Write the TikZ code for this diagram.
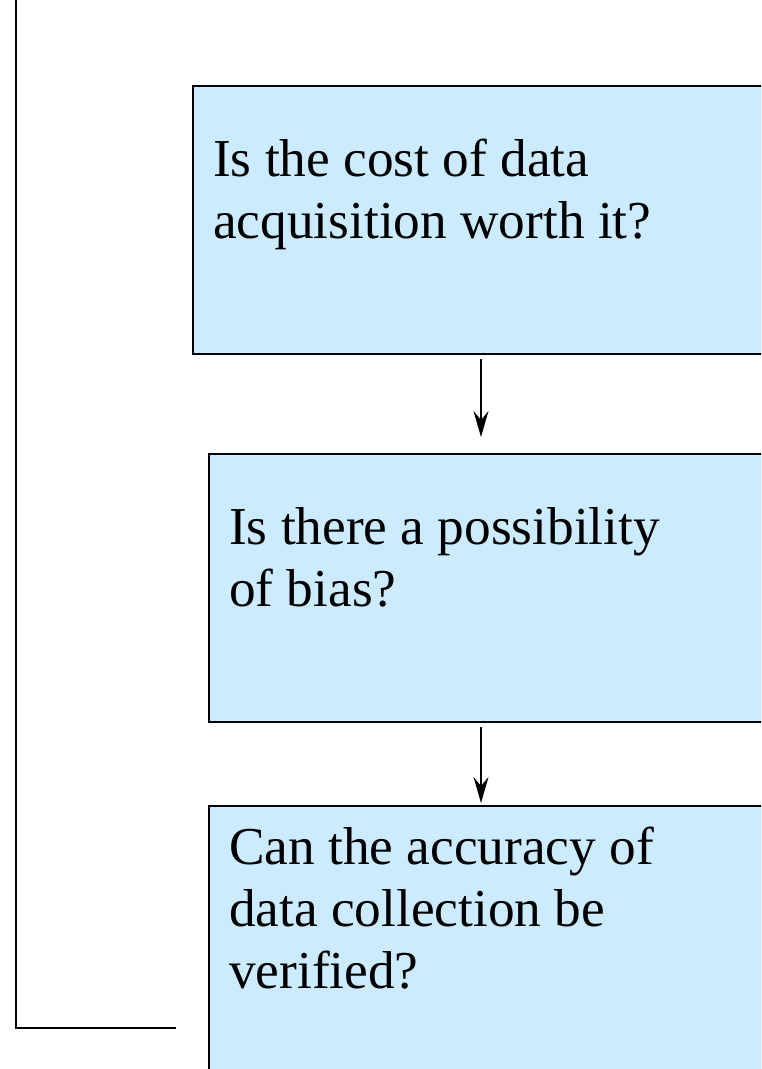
\documentclass[tikz,border=0pt]{standalone}
\usepackage{fontspec}
\setmainfont{Liberation Serif}
\usetikzlibrary{arrows.meta,calc}
\definecolor{boxblue}{RGB}{204,235,255}
\begin{document}
\begin{tikzpicture}[x=1pt,y=-1pt,
  qbox/.style={draw=black, line width=2pt, fill=boxblue, rectangle, inner sep=0pt, anchor=north west},
  qtext/.style={anchor=base west, inner sep=0pt, font=\fontsize{53.3}{62}\selectfont},
  flow/.style={line width=2pt, -{Stealth[length=26pt,width=15pt,inset=9pt]}},
  frame/.style={line width=2pt}]
\useasboundingbox (0,0) rectangle (761,1069);
\clip (0,0) rectangle (761,1069);
\node[qbox, minimum width=620pt, minimum height=268pt] (b1) at (192,85) {};
\node[qbox, minimum width=600pt, minimum height=268pt] (b2) at (208,453) {};
\node[qbox, minimum width=600pt, minimum height=300pt] (b3) at (208,805) {};
\node[qtext] (t1a) at (213,176) {Is the cost of data};
\node[qtext] (t1b) at (213,238) {acquisition worth it?};
\node[qtext] (t2a) at (229,544) {Is there a possibility};
\node[qtext] (t2b) at (229,606) {of bias?};
\node[qtext] (t3a) at (229,864) {Can the accuracy of};
\node[qtext] (t3b) at (229,926) {data collection be};
\node[qtext] (t3c) at (229,988) {verified?};
\coordinate (a1) at ($(b1.south west)+(289,4)$);
\coordinate (a1e) at ($(b2.north west)+(273,-16)$);
\coordinate (a2) at ($(b2.south west)+(273,4)$);
\coordinate (a2e) at ($(b3.north west)+(273,-2)$);
\coordinate (top) at (16,0);
\coordinate (corner) at (16,1028);
\coordinate (lend) at (176,1028);
\draw[flow] (a1) -- (a1e);
\draw[flow] (a2) -- (a2e);
\draw[frame] (top) -- (corner) -- (lend);
\end{tikzpicture}
\end{document}
